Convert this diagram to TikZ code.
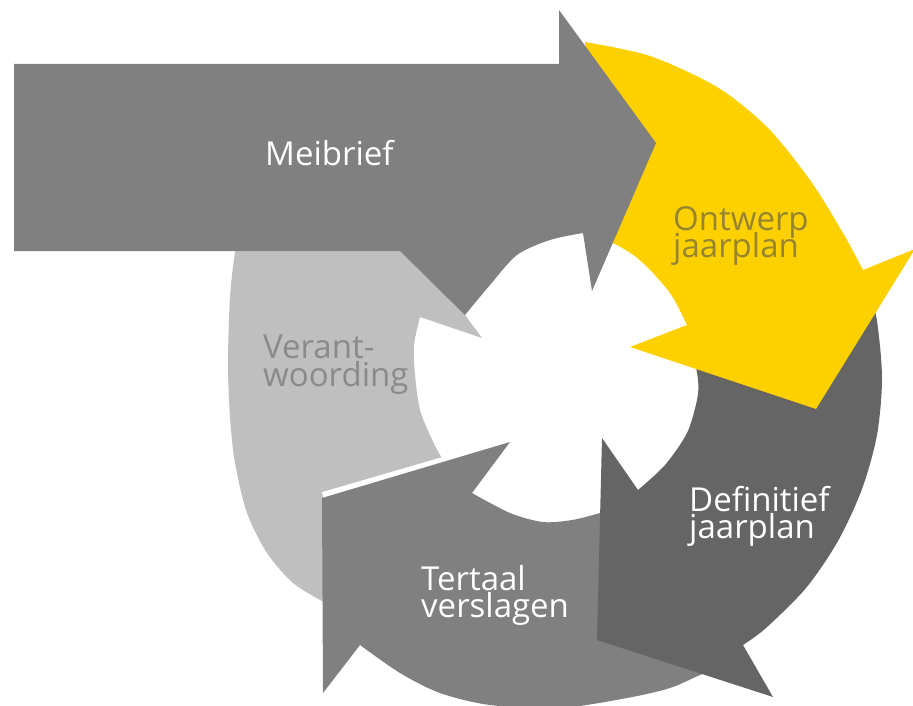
\documentclass[tikz,border=0pt]{standalone}
\usepackage{fontspec}
\setmainfont{Open Sans}
\definecolor{cMei}{HTML}{808080}
\definecolor{cYel}{HTML}{FDD000}
\definecolor{cDef}{HTML}{656565}
\definecolor{cTer}{HTML}{808080}
\definecolor{cVer}{HTML}{BFBFBF}
\definecolor{tYel}{HTML}{958532}
\definecolor{tVer}{HTML}{8A8A8A}
\begin{document}
\begin{tikzpicture}[x=1pt,y=-1pt,
  lab/.style={font=\fontsize{33}{28}\selectfont, inner sep=0pt, anchor=base west},
  sep/.style={draw=white, line width=8pt, line cap=butt}]
\useasboundingbox (0,0) rectangle (913,706);
% Verantwoording (light grey)
\fill[cVer] (345,615) -- plot[smooth] coordinates {(322,601) (293,583) (267,553) (247,513) (235,463) (230,417) (228,363) (230,297) (235,252) (240,230)}
  -- (300,150) -- (418,251) -- (482,338) -- (420,317)
  -- plot[smooth] coordinates {(420,317) (414,345) (415,375) (420,410) (430,435) (440,455) (448,465)}
  -- (460,480) -- cycle;
% white separation line
\path[sep] (323,496) -- (505,443);
% Tertaal verslagen (medium grey)
\fill[cTer] (720,668) -- (625,505)
  -- plot[smooth] coordinates {(625,505) (600,513) (572,520) (543,522) (510,513) (472,493)}
  -- (510,442) -- (322,498) -- (323,693) -- (360,645)
  -- plot[smooth] coordinates {(360,645) (400,673) (440,693) (490,705) (560,708) (627,698) (670,688) (700,675) (720,668)}
  -- cycle;
% Definitief jaarplan (dark grey)
\fill[cDef] (692,345) -- (868,283)
  -- plot[smooth] coordinates {(868,283) (877,321) (882,378) (877,435) (862,489) (838,541) (806,588) (766,628) (743,645)}
  -- (773,697) -- (597,640) -- (602,438) -- (638,490)
  -- plot[smooth] coordinates {(638,490) (665,465) (687,433) (697,400) (698,380) (692,345)}
  -- cycle;
% Ontwerp jaarplan (yellow)
\fill[cYel] (600,238) -- (585,42)
  -- plot[smooth] coordinates {(585,42) (650,56) (717,87) (767,127) (810,180) (843,233) (863,270)}
  -- (915,249) -- (816,409) -- (630,347) -- (687,325)
  -- plot[smooth] coordinates {(687,325) (672,296) (653,273) (636,257) (617,245) (600,238)}
  -- cycle;
% Meibrief (grey)
\fill[cMei] (14,64) -- (559,64) -- (559,10) -- (656,143) -- (592,291) -- (583,233)
  -- plot[smooth] coordinates {(583,233) (550,240) (517,255) (490,285) (465,315)}
  -- (400,251) -- (14,251) -- cycle;
% labels
\node[lab, text=white] (meibrief) at (265,165) {Meibrief};
\node[lab, text=tYel] (ontwerp-a) at (673,230) {Ontwerp};
\node[lab, text=tYel] (ontwerp-b) at (673,257) {jaarplan};
\node[lab, text=white] (definitief-a) at (689,511) {Definitief};
\node[lab, text=white] (definitief-b) at (689,538) {jaarplan};
\node[lab, text=white] (tertaal-a) at (421,590) {Tertaal};
\node[lab, text=white] (tertaal-b) at (421,617) {verslagen};
\node[lab, text=tVer] (verant-a) at (263,358) {Verant-};
\node[lab, text=tVer] (verant-b) at (263,386) {woording};
\end{tikzpicture}
\end{document}
